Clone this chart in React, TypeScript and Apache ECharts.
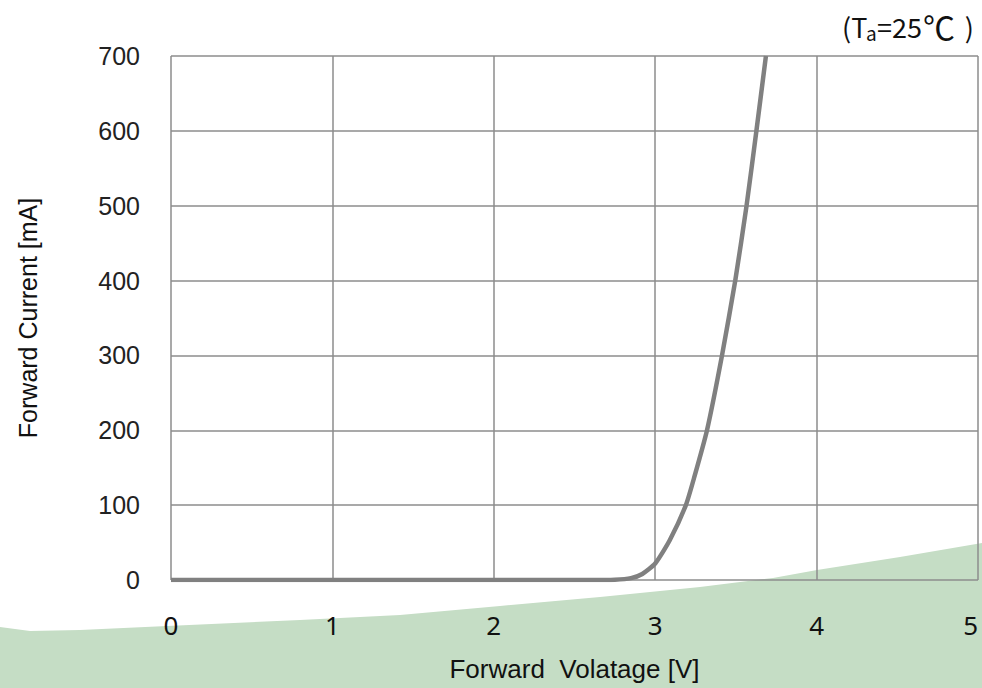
import React, { useEffect, useRef } from "react";
import * as echarts from "echarts";

const voltage = [0, 2.6, 2.75, 2.85, 2.92, 3.0, 3.09, 3.19, 3.243, 3.321, 3.414, 3.496, 3.566, 3.627, 3.686];
const current = [0, 0, 0.4, 2.5, 8, 22, 53, 100, 138, 200, 300, 400, 500, 600, 700];
const xTicks = [0, 1, 2, 3, 4, 5];
const yTicks = [0, 100, 200, 300, 400, 500, 600, 700];

const greenEdge: number[][] = [
  [0, 627], [30, 631], [80, 630], [167, 626], [300, 620], [400, 615], [500, 606],
  [600, 597], [700, 587], [773, 578], [817, 570], [900, 557], [982, 543],
  [982, 688], [0, 688],
];

export default function App() {
  const ref = useRef<HTMLDivElement>(null);
  useEffect(() => {
    document.body.style.margin = "0";
    const chart = echarts.init(ref.current!, null, { renderer: "svg" });
    const data = voltage.map((v, i) => [v, current[i]]);
    const titleFont = "'Noto Sans CJK KR', 'Noto Sans', sans-serif";
    chart.setOption({
      animation: false,
      backgroundColor: "#ffffff",
      grid: { left: 171, right: 4, top: 56, bottom: 108, containLabel: false, outerBoundsMode: "none" },
      graphic: [
        {
          type: "polygon",
          z: -10,
          silent: true,
          shape: { points: greenEdge },
          style: { fill: "#c5ddc5" },
        },
        {
          type: "text",
          x: 842, y: 26,
          style: { text: "(T", fontSize: 27, fontFamily: titleFont, fill: "#111", align: "left", verticalAlign: "middle" },
        },
        {
          type: "text",
          x: 866, y: 32,
          style: { text: "a", fontSize: 19, fontFamily: titleFont, fill: "#111", align: "left", verticalAlign: "middle" },
        },
        {
          type: "text",
          x: 877, y: 26,
          style: { text: "=25", fontSize: 27, fontFamily: titleFont, fill: "#111", align: "left", verticalAlign: "middle" },
        },
        {
          type: "text",
          x: 939, y: 26,
          style: { text: "℃", fontSize: 32, fontFamily: titleFont, fill: "#111", align: "center", verticalAlign: "middle" },
        },
        {
          type: "text",
          x: 974, y: 26,
          style: { text: ")", fontSize: 27, fontFamily: titleFont, fill: "#111", align: "right", verticalAlign: "middle" },
        },
      ],
      xAxis: {
        type: "value",
        min: xTicks[0],
        max: xTicks[xTicks.length - 1],
        interval: 1,
        name: "Forward  Volatage [V]",
        nameLocation: "middle",
        nameGap: 76,
        nameTextStyle: { fontSize: 26, fontFamily: "Liberation Sans", color: "#111" },
        axisLine: { show: false },
        axisTick: { show: false },
        axisLabel: {
          margin: 32,
          fontSize: 26,
          fontFamily: "'Noto Sans', sans-serif",
          color: "#111",
          alignMaxLabel: "right",
        },
        splitLine: { show: true, lineStyle: { color: "#8c8c8c", width: 1.5 } },
      },
      yAxis: {
        type: "value",
        min: yTicks[0],
        max: yTicks[yTicks.length - 1],
        interval: 100,
        name: "Forward Current [mA]",
        nameLocation: "middle",
        nameGap: 131,
        nameTextStyle: { fontSize: 25, fontFamily: "Liberation Sans", color: "#111" },
        axisLine: { show: false },
        axisTick: { show: false },
        axisLabel: { margin: 31, fontSize: 25, fontFamily: "Liberation Sans", color: "#222" },
        splitLine: { show: true, lineStyle: { color: "#8c8c8c", width: 1.5 } },
      },
      series: [
        {
          type: "line",
          data,
          smooth: 0.2,
          showSymbol: false,
          lineStyle: { color: "#808080", width: 4.5 },
          z: 5,
        },
      ],
    });
    return () => chart.dispose();
  }, []);
  return <div ref={ref} style={{ width: 982, height: 688 }} />;
}
